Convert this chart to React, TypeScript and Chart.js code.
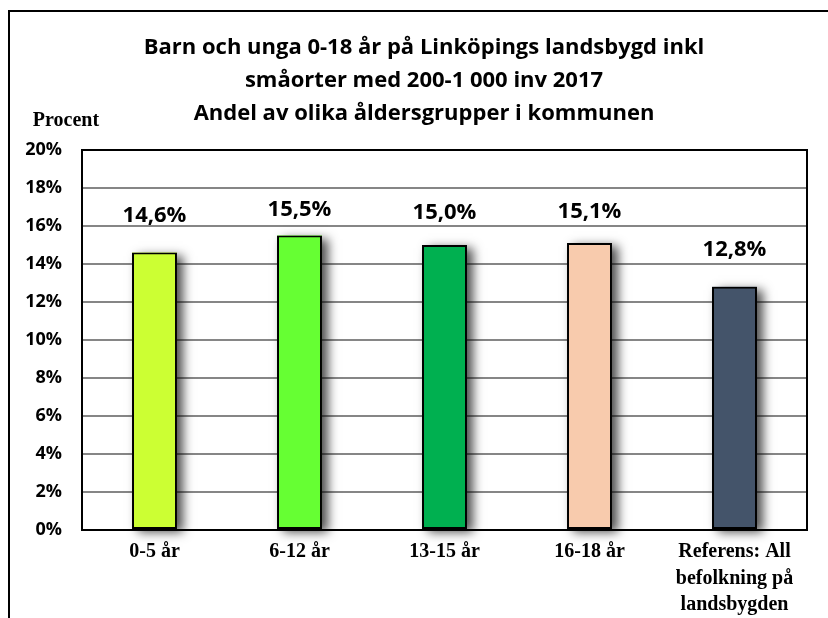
import React, { useEffect, useRef } from "react";
import { Chart, registerables } from "chart.js";

Chart.register(...registerables);

const categories: string[][] = [
  ["0-5 år"],
  ["6-12 år"],
  ["13-15 år"],
  ["16-18 år"],
  ["Referens: All", "befolkning på", "landsbygden"],
];
const values = [14.6, 15.5, 15.0, 15.1, 12.8];
const valueLabels = ["14,6%", "15,5%", "15,0%", "15,1%", "12,8%"];
const yMin = 0;
const yMax = 20;
const yStep = 2;
const titleLines = [
  "Barn och unga 0-18 år på Linköpings landsbygd inkl",
  "småorter med 200-1 000 inv 2017",
  "Andel av olika åldersgrupper i kommunen",
];
const yAxisLabel = "Procent";

// styles
const barColors = ["#CCFF33", "#66FF33", "#00B050", "#F8CBAD", "#44546A"];
const labelGaps = [31, 20, 26, 25, 31];
const SANS = "'Open Sans', 'Liberation Sans', sans-serif";
const SERIF = "'Liberation Serif', 'Times New Roman', serif";

const decorPlugin = {
  id: "decor",
  beforeDatasetsDraw(chart: any) {
    const ctx = chart.ctx;
    const meta = chart.getDatasetMeta(0);
    ctx.save();
    ctx.shadowColor = "rgba(0,0,0,0.7)";
    ctx.shadowBlur = 10;
    ctx.shadowOffsetX = 6;
    ctx.shadowOffsetY = 3;
    meta.data.forEach((bar: any, i: number) => {
      const w = bar.width;
      ctx.fillStyle = barColors[i];
      ctx.fillRect(bar.x - w / 2, bar.y, w, bar.base - bar.y);
    });
    ctx.restore();
  },
  afterDatasetsDraw(chart: any) {
    const ctx = chart.ctx;
    const a = chart.chartArea;
    // plot border
    ctx.save();
    ctx.strokeStyle = "#000";
    ctx.lineWidth = 2;
    ctx.strokeRect(a.left, a.top, a.right - a.left, a.bottom - a.top);
    ctx.restore();
    // value labels
    const meta = chart.getDatasetMeta(0);
    ctx.save();
    ctx.fillStyle = "#000";
    ctx.font = `bold 22px ${SANS}`;
    ctx.textAlign = "center";
    ctx.textBaseline = "alphabetic";
    meta.data.forEach((bar: any, i: number) => {
      ctx.fillText(valueLabels[i], bar.x, bar.y - labelGaps[i]);
    });
    ctx.restore();
  },
  afterDraw(chart: any) {
    const ctx = chart.ctx;
    ctx.save();
    // outer frame (top & left)
    ctx.strokeStyle = "#000";
    ctx.lineWidth = 2;
    ctx.beginPath();
    ctx.moveTo(9, 618);
    ctx.lineTo(9, 11);
    ctx.lineTo(828, 11);
    ctx.stroke();
    // title
    ctx.fillStyle = "#000";
    ctx.font = `bold 22px ${SANS}`;
    ctx.textAlign = "center";
    ctx.textBaseline = "middle";
    titleLines.forEach((t, i) => ctx.fillText(t, 424, 48 + i * 33));
    // Procent
    ctx.font = `bold 20px ${SERIF}`;
    ctx.fillText(yAxisLabel, 66, 121);
    ctx.restore();
  },
};

export default function App() {
  const ref = useRef<HTMLCanvasElement>(null);
  useEffect(() => {
    if (!ref.current) return;
    const chart = new Chart(ref.current, {
      type: "bar",
      data: {
        labels: categories,
        datasets: [
          {
            data: values,
            backgroundColor: barColors,
            borderColor: "#000",
            borderWidth: 2,
            borderSkipped: false,
            barPercentage: 0.31,
            categoryPercentage: 1,
          },
        ],
      },
      options: {
        responsive: false,
        animation: false,
        devicePixelRatio: 1,
        layout: { padding: { top: 150, right: 21, left: 0, bottom: 0 } },
        plugins: {
          legend: { display: false },
          title: { display: false },
          tooltip: { enabled: false },
        },
        scales: {
          x: {
            grid: { display: false, drawTicks: false },
            border: { display: false },
            ticks: {
              color: "#000",
              font: { family: SERIF, size: 20, weight: "bold", lineHeight: 1.32 },
              padding: 9,
              maxRotation: 0,
              autoSkip: false,
            },
            afterFit(scale: any) {
              scale.height = 88;
            },
          },
          y: {
            min: yMin,
            max: yMax,
            grid: { color: "#868686", lineWidth: 2, drawTicks: false },
            border: { display: false },
            ticks: {
              stepSize: yStep,
              color: "#000",
              padding: 20,
              font: { family: SANS, size: 18, weight: "bold" },
              callback: (v: any) => `${v}%`,
            },
            afterFit(scale: any) {
              scale.width = 82;
            },
          },
        },
      },
      plugins: [decorPlugin],
    });
    return () => chart.destroy();
  }, []);
  return (
    <div style={{ position: "absolute", left: 0, top: 0, width: 828, height: 618, background: "#fff" }}>
      <canvas ref={ref} width={828} height={618} style={{ display: "block" }} />
    </div>
  );
}
